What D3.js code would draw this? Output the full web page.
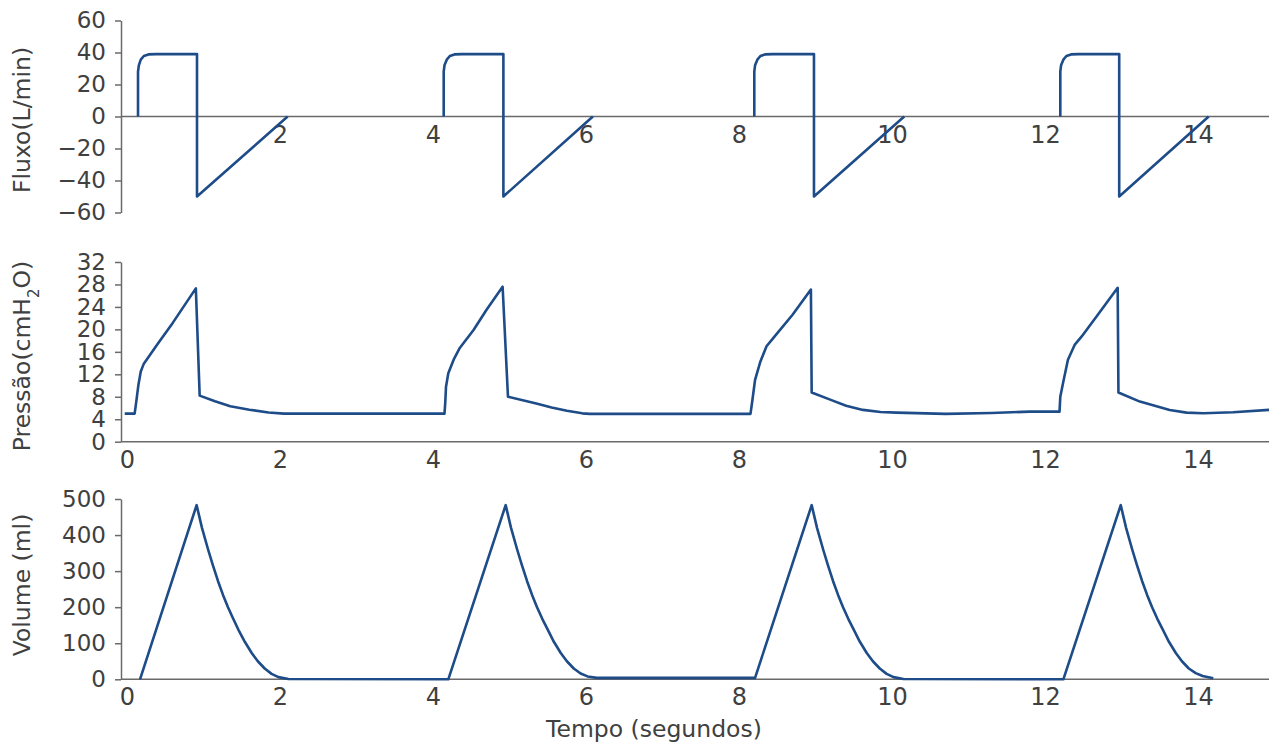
<!DOCTYPE html>
<html>
<head>
<meta charset="utf-8">
<script src="https://cdn.jsdelivr.net/npm/d3@7"></script>
<style>
  body { margin: 0; background: #fff; }
  svg text { font-family: "DejaVu Sans", sans-serif; fill: #404040; }
</style>
</head>
<body>
<div id="chart"></div>
<script>
// tick labels
const timeTicks = [0, 2, 4, 6, 8, 10, 12, 14];
const flowTicks = [-60, -40, -20, 0, 20, 40, 60];
const pressureTicks = [0, 4, 8, 12, 16, 20, 24, 28, 32];
const volumeTicks = [0, 100, 200, 300, 400, 500];

// flow (L/min), null = gap between breaths
const flowT = [
  0.144, 0.144, 0.155, 0.18, 0.22, 0.28, 0.38, 0.915, 0.915, 2.10, null,
  4.14, 4.14, 4.15, 4.18, 4.22, 4.28, 4.38, 4.92, 4.92, 6.09, null,
  8.20, 8.20, 8.21, 8.24, 8.28, 8.34, 8.44, 8.98, 8.98, 10.16, null,
  12.20, 12.20, 12.21, 12.24, 12.28, 12.34, 12.44, 12.97, 12.97, 14.14
];
const flowV = [
  0, 28, 32, 35.5, 37.8, 38.8, 39, 39, -50, 0, null,
  0, 28, 32, 35.5, 37.8, 38.8, 39, 39, -50, 0, null,
  0, 28, 32, 35.5, 37.8, 38.8, 39, 39, -50, 0, null,
  0, 28, 32, 35.5, 37.8, 38.8, 39, 39, -50, 0
];

// pressure (cmH2O)
const pressureT = [
  -0.03, 0.10, 0.12, 0.15, 0.18, 0.22, 0.40, 0.60, 0.90, 0.95, 1.15, 1.35, 1.60, 1.85, 2.05,
  4.15, 4.16, 4.17, 4.20, 4.27, 4.35, 4.53, 4.70, 4.91, 4.98, 5.35, 5.55, 5.75, 5.95, 6.05,
  8.15, 8.17, 8.21, 8.28, 8.36, 8.45, 8.70, 8.94, 8.95, 9.20, 9.40, 9.62, 9.85, 10.06, 10.70, 11.30, 11.80,
  12.19, 12.20, 12.24, 12.30, 12.39, 12.48, 12.70, 12.95, 12.96, 13.24, 13.63, 13.85, 14.07, 14.46, 14.93
];
const pressureV = [
  5.0, 5.0, 7.0, 10.2, 12.5, 13.9, 17.4, 21.2, 27.3, 8.2, 7.2, 6.3, 5.7, 5.2, 5.0,
  5.0, 6.9, 9.8, 12.2, 14.6, 16.7, 19.9, 23.5, 27.6, 8.0, 6.8, 6.1, 5.5, 5.05, 4.95,
  4.95, 6.9, 11.0, 14.3, 17.0, 18.5, 22.6, 27.1, 8.75, 7.45, 6.4, 5.66, 5.3, 5.18, 4.95, 5.1, 5.36,
  5.36, 8.0, 10.7, 14.6, 17.3, 18.75, 22.8, 27.4, 8.75, 7.14, 5.66, 5.18, 5.07, 5.25, 5.66
];

// volume (ml)
const volumeT = [
  0.17, 0.91, 0.98, 1.06, 1.12, 1.19, 1.255, 1.32, 1.39, 1.455, 1.54, 1.63, 1.71, 1.80, 1.89, 1.98, 2.11,
  4.20, 4.95, 5.02, 5.10, 5.16, 5.23, 5.295, 5.36, 5.43, 5.50, 5.58, 5.67, 5.75, 5.84, 5.93, 6.02, 6.14,
  8.21, 8.95, 9.02, 9.10, 9.16, 9.23, 9.295, 9.36, 9.43, 9.50, 9.58, 9.67, 9.75, 9.84, 9.93, 10.02, 10.15,
  12.24, 12.99, 13.06, 13.14, 13.20, 13.27, 13.335, 13.40, 13.47, 13.54, 13.62, 13.71, 13.79, 13.88, 13.97, 14.06, 14.20
];
const volumeV = [
  0, 483, 420, 360, 318, 272, 234, 200, 167, 138, 104, 73, 50, 30, 15, 6, 1,
  0, 483, 420, 360, 318, 272, 234, 200, 167, 138, 104, 73, 50, 30, 16, 8, 4,
  4, 483, 420, 360, 318, 272, 234, 200, 167, 138, 104, 73, 50, 30, 15, 6, 1,
  0, 483, 420, 360, 318, 272, 234, 200, 167, 138, 104, 73, 50, 30, 17, 9, 3
];

const width = 1269, height = 742;
const axisX = 121;
const lineColor = "#1d4c88";
const axisColor = "#6a6a6a";
const textColor = "#404040";

const svg = d3.select("#chart").append("svg")
  .attr("width", width)
  .attr("height", height);

const x = d3.scaleLinear().domain([0, 15]).range([127, 127 + 15 * 76.5]);

const panels = [
  { t: flowT, v: flowV, ticks: flowTicks, domain: [-60, 60], range: [212.5, 20.5],
    xTicks: timeTicks.slice(1), title: "Fluxo(L/min)", titleY: 120 },
  { t: pressureT, v: pressureV, ticks: pressureTicks, domain: [0, 32], range: [441.7, 262],
    xTicks: timeTicks, title: null, titleY: 356 },
  { t: volumeT, v: volumeV, ticks: volumeTicks, domain: [0, 500], range: [679.3, 499],
    xTicks: timeTicks, title: "Volume (ml)", titleY: 585 }
];

panels.forEach((p) => {
  const y = d3.scaleLinear().domain(p.domain).range(p.range);

  // x axis at value 0
  const gx = svg.append("g")
    .attr("transform", "translate(0," + y(0) + ")")
    .call(d3.axisBottom(x).tickValues(p.xTicks).tickSize(0).tickPadding(9).tickFormat(d3.format("d")));
  gx.attr("font-family", null).attr("font-size", null).style("font-size", "24px");
  gx.select(".domain").attr("d", "M" + axisX + ",0H" + width)
    .attr("stroke", axisColor).attr("stroke-width", 1.5);
  gx.selectAll("text").attr("fill", textColor);

  // y axis
  const gy = svg.append("g")
    .attr("transform", "translate(" + axisX + ",0)")
    .call(d3.axisLeft(y).tickValues(p.ticks).tickSize(6).tickSizeOuter(0).tickPadding(9));
  gy.attr("font-family", null).attr("font-size", null).style("font-size", "23px");
  gy.select(".domain").attr("stroke", axisColor).attr("stroke-width", 1.5);
  gy.selectAll(".tick line").attr("stroke", axisColor).attr("stroke-width", 1.5);
  gy.selectAll("text").attr("fill", textColor);

  // series
  const pts = p.t.map((t, k) => ({ t: t, v: p.v[k] }));
  const line = d3.line()
    .defined(d => d.t != null && d.v != null)
    .x(d => x(d.t))
    .y(d => y(d.v));
  svg.append("path")
    .datum(pts)
    .attr("fill", "none")
    .attr("stroke", lineColor)
    .attr("stroke-width", 2.6)
    .attr("stroke-linejoin", "round")
    .attr("d", line);

  // y title
  const title = svg.append("text")
    .attr("transform", "translate(30," + p.titleY + ") rotate(-90)")
    .attr("text-anchor", "middle")
    .style("font-size", "23.5px");
  if (p.title) {
    title.text(p.title);
  } else {
    title.append("tspan").text("Pressão(cmH");
    title.append("tspan").attr("baseline-shift", "sub").style("font-size", "15px").text("2");
    title.append("tspan").text("O)");
  }
});

svg.append("text")
  .attr("x", 654)
  .attr("y", 737)
  .attr("text-anchor", "middle")
  .style("font-size", "23.5px")
  .text("Tempo (segundos)");
</script>
</body>
</html>
